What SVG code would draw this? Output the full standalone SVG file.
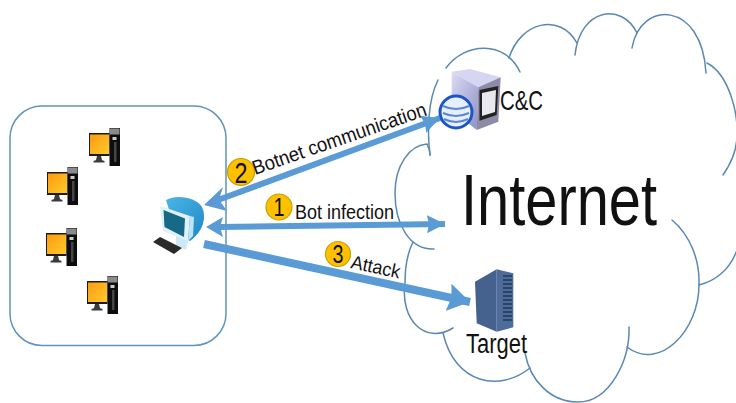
<svg xmlns="http://www.w3.org/2000/svg" width="736" height="403" viewBox="0 0 736 403">
<style>
.cl{fill:none;stroke:#5a88b3;stroke-width:1.5;stroke-linecap:round}
.ar{fill:none;stroke:#5b9bd5;stroke-width:6}
.t{font-family:"Liberation Sans",Arial,sans-serif;fill:#111}
.b{fill:#ffc000;stroke:#c9a000;stroke-width:1.2}
.n{font-family:"Liberation Sans",Arial,sans-serif;fill:#111;text-anchor:middle}
</style>
<defs>
<filter id="soft" x="-10%" y="-10%" width="120%" height="120%"><feGaussianBlur stdDeviation="0.45"/></filter>
<linearGradient id="scr" x1="0" y1="0" x2="1" y2="1"><stop offset="0" stop-color="#fd9a12"/><stop offset="1" stop-color="#ffcb2a"/></linearGradient>
<linearGradient id="dome" x1="0" y1="0" x2="1" y2="1"><stop offset="0" stop-color="#4cb6e6"/><stop offset="1" stop-color="#1f86c4"/></linearGradient>
<linearGradient id="srv" x1="0" y1="0" x2="1" y2="1"><stop offset="0" stop-color="#dcdcf4"/><stop offset="1" stop-color="#8e90c4"/></linearGradient>
<marker id="h" viewBox="0 0 18 18" refX="18" refY="9" markerWidth="18" markerHeight="18" markerUnits="userSpaceOnUse" orient="auto"><path d="M0 0L18 9L0 18L2 9Z" fill="#5b9bd5"/></marker>
<marker id="h3" viewBox="0 0 22 28" refX="22" refY="14" markerWidth="22" markerHeight="28" markerUnits="userSpaceOnUse" orient="auto"><path d="M0 0L22 14L0 28L3 14Z" fill="#5b9bd5"/></marker>
<g id="pc">
<rect x="0" y="0" width="20.500" height="23" fill="#1a1a1a"/>
<rect x="1" y="1.500" width="19" height="19.500" fill="url(#scr)"/>
<path d="M8 23h4l1 4h-6zM4.500 28q5.500-2.500 11 0v1.500h-11z" fill="#3a3a3a"/>
<rect x="20.500" y="-5" width="10.500" height="38" fill="#111"/>
<rect x="21" y="-4.500" width="9.500" height="6" fill="#8a8a8a"/>
<rect x="23.500" y="4" width="4" height="3" fill="#ccc"/>
<rect x="25" y="9" width="2.500" height="20" fill="#444"/>
</g>
</defs>
<rect width="736" height="403" fill="#fff"/>
<g id="botnet-area"><rect x="10" y="106" width="216" height="239.500" rx="32" ry="32" fill="none" stroke="#5f93c0" stroke-width="1.500"/></g>
<g id="internet-cloud">
<path class="cl" d="M430 155C427 130 428 100 438 80"/>
<path class="cl" d="M446 68C465 42 505 40 520 72"/>
<path class="cl" d="M509 58C520 22 560 12 577 43"/>
<path class="cl" d="M575 55C580 8 622 2 637 33"/>
<path class="cl" d="M632 48C640 0 702 0 706 73"/>
<path class="cl" d="M707 63C730 75 738 115 737 135C737 150 730 165 723 175"/>
<path class="cl" d="M672 220C690 235 700 260 699 285C699 330 660 372 627 347"/>
<path class="cl" d="M699 285C715 281 730 270 737 250"/>
<path class="cl" d="M629 327C630 360 610 402 578 402C550 402 530 380 525 353"/>
<path class="cl" d="M530 368C500 392 455 385 443 333"/>
<path class="cl" d="M453 328C425 345 400 320 405 283C405 265 408 252 413 242"/>
<path class="cl" d="M434 249C410 250 395 225 395 193C395 165 410 145 427 144C428 146 430 150 430 155"/>
</g>
<g id="internet-label"><text class="t" x="461" y="225" font-size="72" textLength="196" lengthAdjust="spacingAndGlyphs">Internet</text></g>
<g id="connectors">
<line class="ar" x1="218" y1="200" x2="440" y2="118" marker-end="url(#h)"/>
<path d="M204 205L223 187L219 199.500L227 211Z" fill="#5b9bd5"/>
<line class="ar" x1="220" y1="227" x2="445" y2="224" marker-end="url(#h)"/>
<path d="M206 227L223 217L220 227L223 237Z" fill="#5b9bd5"/>
<line x1="204" y1="244" x2="470" y2="302" fill="none" stroke="#5b9bd5" stroke-width="8" marker-end="url(#h3)"/>
</g>
<g id="pc1" filter="url(#soft)"><use href="#pc" x="89" y="133"/></g>
<g id="pc2" filter="url(#soft)"><use href="#pc" x="47" y="172"/></g>
<g id="pc3" filter="url(#soft)"><use href="#pc" x="46" y="233"/></g>
<g id="pc4" filter="url(#soft)"><use href="#pc" x="87" y="281"/></g>
<g id="bot" filter="url(#soft)">
<path d="M166 200C176 194 196 197 202 207C207 217 203 232 190 241L176 232Z" fill="url(#dome)"/>
<path d="M160 206L190 216L188 241L163 231Z" fill="#dff1fb"/>
<path d="M190 216L194 217L193 236L188 241Z" fill="#bfe3f6"/>
<path d="M163.500 210L185 218.500L184 237L164.500 227Z" fill="#126b86"/>
<path d="M176 236L188 241L186 250L176 245Z" fill="#cfe8f5"/>
<path d="M153 242L160 237L182 248L174 254Z" fill="#2a2a2a"/>
</g>
<g id="cc-server" filter="url(#soft)">
<path d="M451.700 71.700L470 69L500.700 77.300L478.300 87.300Z" fill="#d6d6f2"/>
<path d="M451.700 71.700L478.300 87.300L476.700 130L451.700 110Z" fill="url(#srv)"/>
<path d="M478.300 87.300L500.700 77.300L498.300 121.700L476.700 130Z" fill="#8c8ca6"/>
<path d="M479.500 90L498.300 86L496.700 115L479.500 120.700Z" fill="#222"/>
<path d="M482 93L496 90L495 112L482 116Z" fill="#e8e8ee"/>
<circle cx="456" cy="112" r="16" fill="#e6effa" stroke="#1c55c8" stroke-width="3"/>
<path d="M443 106Q456 112 469 106M443 113Q456 119 469 113M444 119Q456 125 468 119" fill="none" stroke="#5a86d8" stroke-width="2"/>
</g>
<g id="cc-label"><text class="t" x="500" y="110" font-size="28" textLength="43" lengthAdjust="spacingAndGlyphs">C&amp;C</text></g>
<g id="target" filter="url(#soft)">
<path d="M475 281.700L496.700 269.300L496.700 331.700L476.700 323.300Z" fill="#44628f"/>
<path d="M496.700 269.300L513.300 273.300L513.300 327.300L496.700 331.700Z" fill="#4d6c9c"/>
<path d="M503 276H512M503 280H512M503 284H512M503 288H512M503 292H512M503 296H512M503 300H512M503 304H512M503 308H512M503 312H512M503 316H512M503 320H512" stroke="#2c4468" stroke-width="1.800"/>
</g>
<g id="target-label"><text class="t" x="466" y="353" font-size="27" textLength="61" lengthAdjust="spacingAndGlyphs">Target</text></g>
<g id="label-2">
<circle class="b" cx="241" cy="172" r="13.500"/>
<text class="n" x="241" y="183" font-size="30" textLength="13" lengthAdjust="spacingAndGlyphs">2</text>
<text class="t" transform="translate(255 175) rotate(-19.100)" font-size="20" textLength="183" lengthAdjust="spacingAndGlyphs">Botnet communication</text>
</g>
<g id="label-1">
<circle class="b" cx="279" cy="207" r="13"/>
<text class="n" x="279" y="216" font-size="25" textLength="11" lengthAdjust="spacingAndGlyphs">1</text>
<text class="t" x="295" y="219" font-size="20" textLength="99" lengthAdjust="spacingAndGlyphs">Bot infection</text>
</g>
<g id="label-3">
<circle class="b" cx="338" cy="254" r="12.500"/>
<text class="n" x="338" y="263" font-size="25" textLength="11" lengthAdjust="spacingAndGlyphs">3</text>
<text class="t" transform="translate(350 268) rotate(12)" font-size="19" textLength="50" lengthAdjust="spacingAndGlyphs">Attack</text>
</g>
</svg>
